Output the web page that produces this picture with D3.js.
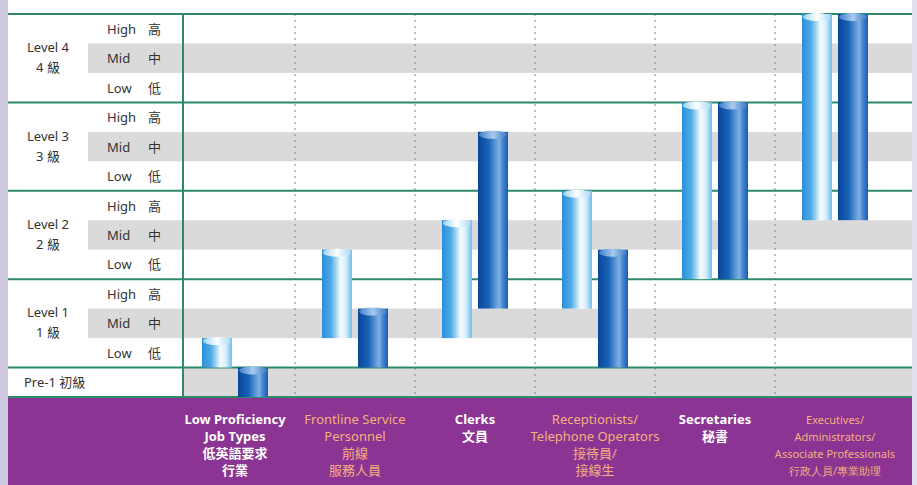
<!DOCTYPE html>
<html>
<head>
<meta charset="utf-8">
<script src="https://cdn.jsdelivr.net/npm/d3@7"></script>
<style>
  body { margin: 0; background: #fff; }
  svg { display: block; font-family: "Noto Sans", "Noto Sans CJK TC", sans-serif; }
</style>
</head>
<body>
<svg width="917" height="485"></svg>
<script>
// levels from bottom (row index 0 = Pre-1)
var levels = ["Pre-1", "Level 1", "Level 2", "Level 3", "Level 4"];
var levelsZh = ["初級", "1 級", "2 級", "3 級", "4 級"];
var subLevels = ["Low", "Mid", "High"];
var subLevelsZh = ["低", "中", "高"];

var jobTypes = ["Low Proficiency Job Types", "Frontline Service Personnel", "Clerks",
                "Receptionists/Telephone Operators", "Secretaries",
                "Executives/Administrators/Associate Professionals"];
var jobLabels = [
  ["Low Proficiency", "Job Types", "低英語要求", "行業"],
  ["Frontline Service", "Personnel", "前線", "服務人員"],
  ["Clerks", "文員"],
  ["Receptionists/", "Telephone Operators", "接待員/", "接線生"],
  ["Secretaries", "秘書"],
  ["Executives/", "Administrators/", "Associate Professionals", "行政人員/專業助理"]
];

// required proficiency ranges, in sub-level rows (0 = Pre-1 bottom, 13 = Level 4 High top)
var lightFrom = [1, 2, 2, 3, 4, 6];
var lightTo   = [2, 5, 6, 7, 10, 13];
var darkFrom  = [0, 1, 3, 1, 4, 6];
var darkTo    = [1, 3, 9, 5, 10, 13];

var svg = d3.select("svg"),
    width = +svg.attr("width"),
    height = +svg.attr("height");

var pLeft = 8, pRight = 912, pTop = 14, pBottom = 397, axisX = 183;

var y = d3.scaleLinear().domain([0, 13]).range([pBottom, pTop]);
var x = d3.scaleBand().domain(jobTypes).range([175, 895]);
var rowH = y(0) - y(1);

// gradients
var defs = svg.append("defs");
function grad(id, stops) {
  var g = defs.append("linearGradient").attr("id", id)
      .attr("x1", "0%").attr("x2", "100%").attr("y1", "0%").attr("y2", "0%");
  stops.forEach(function(s) {
    g.append("stop").attr("offset", s[0]).attr("stop-color", s[1]);
  });
}
grad("lightBody", [["0%", "#2b8fd8"], ["30%", "#4eaae6"], ["62%", "#f4fbff"], ["80%", "#d4edfb"], ["100%", "#6fbdec"]]);
grad("darkBody", [["0%", "#0a4697"], ["35%", "#1863b8"], ["70%", "#7fb0e4"], ["85%", "#3f7fcc"], ["100%", "#1a5cb0"]]);
grad("lightCap", [["0%", "#9fd3f3"], ["50%", "#ffffff"], ["100%", "#a8d8f5"]]);
grad("darkCap", [["0%", "#3e7fc9"], ["50%", "#a9cbee"], ["100%", "#3a78c4"]]);

// side stripes
svg.append("rect").attr("x", 0).attr("y", 0).attr("width", pLeft).attr("height", height).attr("fill", "#cfc7df");
svg.append("rect").attr("x", pRight).attr("y", 0).attr("width", width - pRight).attr("height", height).attr("fill", "#e4dfee");

// grey bands: Mid rows of every level
d3.range(1, 5).forEach(function(l) {
  var r = (l - 1) * 3 + 2;
  svg.append("rect")
    .attr("x", 88).attr("y", y(r + 1))
    .attr("width", pRight - 88).attr("height", rowH)
    .attr("fill", "#dadada");
});
// Pre-1 row
svg.append("rect")
  .attr("x", axisX).attr("y", y(1))
  .attr("width", pRight - axisX).attr("height", rowH)
  .attr("fill", "#dadada");

// dotted column dividers
svg.selectAll(".div").data(jobTypes.slice(1)).enter().append("line")
  .attr("x1", function(d) { return x(d); }).attr("x2", function(d) { return x(d); })
  .attr("y1", pTop).attr("y2", pBottom)
  .attr("stroke", "#8a9a94").attr("stroke-width", 1.2)
  .attr("stroke-dasharray", "2,4");

// level lines (behind the cylinders)
svg.selectAll(".lvl").data([0, 1, 4, 7, 10, 13]).enter().append("line")
  .attr("x1", pLeft).attr("x2", pRight)
  .attr("y1", function(d) { return y(d); }).attr("y2", function(d) { return y(d); })
  .attr("stroke", "#2f8a6a").attr("stroke-width", 2);
svg.append("line")
  .attr("x1", axisX).attr("x2", axisX).attr("y1", pTop).attr("y2", pBottom)
  .attr("stroke", "#2f8a6a").attr("stroke-width", 2);

// bars
function drawBars(from, to, body, cap, dx) {
  var g = svg.append("g");
  var bw = 30;
  g.selectAll("rect").data(jobTypes).enter().append("rect")
    .attr("x", function(d) { return x(d) + x.bandwidth() / 2 + dx; })
    .attr("y", function(d, i) { return y(to[i]); })
    .attr("width", bw)
    .attr("height", function(d, i) { return y(from[i]) - y(to[i]); })
    .attr("fill", "url(#" + body + ")");
  g.selectAll("ellipse").data(jobTypes).enter().append("ellipse")
    .attr("cx", function(d) { return x(d) + x.bandwidth() / 2 + dx + bw / 2; })
    .attr("cy", function(d, i) { return y(to[i]) + 3; })
    .attr("rx", bw / 2 - 1).attr("ry", 4)
    .attr("fill", "url(#" + cap + ")");
}
drawBars(lightFrom, lightTo, "lightBody", "lightCap", -33);
drawBars(darkFrom, darkTo, "darkBody", "darkCap", 3);

// left labels
var txt = "#333";
d3.range(1, 5).forEach(function(l) {
  var mid = y((l - 1) * 3 + 2.5);
  svg.append("text").attr("x", 48).attr("y", mid - 6).attr("text-anchor", "middle")
    .attr("font-size", 13).attr("fill", txt).text(levels[l]);
  svg.append("text").attr("x", 48).attr("y", mid + 14).attr("text-anchor", "middle")
    .attr("font-size", 13).attr("fill", txt).text(levelsZh[l]);
  subLevels.forEach(function(s, j) {
    var cy = y((l - 1) * 3 + 1 + j + 0.5);
    svg.append("text").attr("x", 107).attr("y", cy + 5)
      .attr("font-size", 13).attr("fill", txt).text(s);
    svg.append("text").attr("x", 148).attr("y", cy + 5)
      .attr("font-size", 13).attr("fill", txt).text(subLevelsZh[j]);
  });
});
svg.append("text").attr("x", 24).attr("y", y(0.5) + 5)
  .attr("font-size", 13).attr("fill", txt).text(levels[0] + "  " + levelsZh[0]);

// purple footer
svg.append("rect").attr("x", pLeft).attr("y", pBottom + 1)
  .attr("width", pRight - pLeft).attr("height", height - pBottom - 1)
  .attr("fill", "#8b3493");

jobLabels.forEach(function(lines, i) {
  var cx = x(jobTypes[i]) + x.bandwidth() / 2;
  var white = i % 2 === 0;
  var narrow = i === 5;
  lines.forEach(function(t, k) {
    var el = svg.append("text")
      .attr("x", cx).attr("y", 424 + k * 17)
      .attr("text-anchor", "middle")
      .attr("font-size", narrow ? 11 : 13)
      .attr("font-weight", white ? "bold" : "normal")
      .attr("fill", white ? "#ffffff" : "#f3b27c")
      .text(t);
    if (narrow) el.attr("font-family", "'Liberation Sans Narrow', 'Noto Sans', sans-serif");
  });
});
</script>
</body>
</html>
